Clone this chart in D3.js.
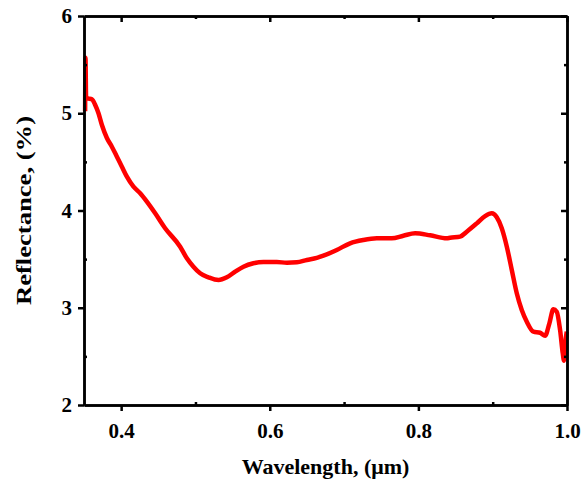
<!DOCTYPE html>
<html>
<head>
<meta charset="utf-8">
<script src="https://cdn.jsdelivr.net/npm/d3@7"></script>
<style>
  body { margin: 0; background: #fff; }
  text { font-family: "Liberation Serif", "Times New Roman", serif; font-weight: bold; }
</style>
</head>
<body>
<div id="chart"></div>
<script>
// ---- data ----
const wavelength = [0.3515, 0.3520, 0.3528, 0.3547, 0.3606, 0.3651, 0.3695, 0.3741, 0.3808, 0.3875,
  0.3943, 0.4010, 0.4077, 0.4166, 0.4256, 0.4346, 0.4458, 0.4592, 0.4794, 0.4884,
  0.4973, 0.5063, 0.5175, 0.5310, 0.5422, 0.5534, 0.5646, 0.5780, 0.5915, 0.6095,
  0.6230, 0.6364, 0.6499, 0.6633, 0.6722, 0.6902, 0.7081, 0.7260, 0.7441, 0.7642,
  0.7798, 0.7956, 0.8158, 0.8382, 0.8427, 0.8561, 0.8651, 0.8786, 0.8898, 0.8988,
  0.9055, 0.9122, 0.9190, 0.9257, 0.9324, 0.9391, 0.9459, 0.9548, 0.9638, 0.9705,
  0.9763, 0.9816, 0.9862, 0.9907, 0.9943, 0.9960, 0.9987, 0.9997];
const reflectance = [5.02, 5.57, 5.17, 5.154, 5.143, 5.085, 5.00, 4.879, 4.746, 4.656,
  4.553, 4.450, 4.348, 4.245, 4.177, 4.091, 3.971, 3.817, 3.628, 3.508,
  3.422, 3.354, 3.313, 3.285, 3.313, 3.371, 3.422, 3.457, 3.470, 3.470,
  3.463, 3.467, 3.491, 3.512, 3.535, 3.594, 3.663, 3.697, 3.714, 3.714,
  3.741, 3.766, 3.745, 3.714, 3.720, 3.731, 3.782, 3.868, 3.943, 3.971,
  3.930, 3.817, 3.628, 3.388, 3.149, 2.977, 2.857, 2.754, 2.743, 2.713,
  2.840, 2.984, 2.959, 2.771, 2.532, 2.456, 2.702, 2.754];

const xTicks = [0.4, 0.6, 0.8, 1.0];
const xMinor = [0.5, 0.7, 0.9];
const yTicks = [2, 3, 4, 5, 6];
const yMinor = [2.5, 3.5, 4.5, 5.5];

// ---- layout ----
const width = 583, height = 481;
const plot = { left: 84, right: 567, top: 16, bottom: 405 };

const svg = d3.select("#chart").append("svg")
  .attr("width", width)
  .attr("height", height);

const x = d3.scaleLinear().domain([0.35, 1.0]).range([plot.left, plot.right]);
const y = d3.scaleLinear().domain([2, 6]).range([plot.bottom, plot.top]);

// ---- curve ----
const series = wavelength.map((w, i) => ({ w, r: reflectance[i] }));
const line = d3.line()
  .x(d => x(d.w))
  .y(d => y(d.r))
  .curve(d3.curveMonotoneX);

svg.append("path")
  .datum(series)
  .attr("d", line)
  .attr("fill", "none")
  .attr("stroke", "#ff0000")
  .attr("stroke-width", 4.5)
  .attr("stroke-linejoin", "round");

// ---- axes ----
function styleAxis(g) {
  g.select(".domain").attr("stroke", "#000").attr("stroke-width", 2.5);
  g.selectAll(".tick line").attr("stroke", "#000").attr("stroke-width", 2.5);
  g.selectAll(".tick text").attr("fill", "#000");
}

const fmtX = d3.format(".1f");

// bottom
svg.append("g")
  .attr("transform", `translate(0,${plot.bottom})`)
  .call(d3.axisBottom(x).tickValues(xTicks).tickFormat(fmtX).tickSize(6).tickSizeOuter(0).tickPadding(12))
  .call(styleAxis)
  .call(g => g.selectAll(".tick text").style("font-size", "21px"));
svg.append("g")
  .attr("transform", `translate(0,${plot.bottom})`)
  .call(d3.axisTop(x).tickValues(xMinor).tickFormat("").tickSize(3).tickSizeOuter(0))
  .call(styleAxis);

// top
svg.append("g")
  .attr("transform", `translate(0,${plot.top})`)
  .call(d3.axisBottom(x).tickValues(xTicks).tickFormat("").tickSize(6).tickSizeOuter(0))
  .call(styleAxis);
svg.append("g")
  .attr("transform", `translate(0,${plot.top})`)
  .call(d3.axisBottom(x).tickValues(xMinor).tickFormat("").tickSize(3).tickSizeOuter(0))
  .call(styleAxis);

// left
svg.append("g")
  .attr("transform", `translate(${plot.left},0)`)
  .call(d3.axisLeft(y).tickValues(yTicks).tickFormat(d3.format("d")).tickSize(6).tickSizeOuter(0).tickPadding(6))
  .call(styleAxis)
  .call(g => g.selectAll(".tick text").style("font-size", "21px"));
svg.append("g")
  .attr("transform", `translate(${plot.left},0)`)
  .call(d3.axisRight(y).tickValues(yMinor).tickFormat("").tickSize(3).tickSizeOuter(0))
  .call(styleAxis);

// right
svg.append("g")
  .attr("transform", `translate(${plot.right},0)`)
  .call(d3.axisLeft(y).tickValues(yTicks).tickFormat("").tickSize(6).tickSizeOuter(0))
  .call(styleAxis);
svg.append("g")
  .attr("transform", `translate(${plot.right},0)`)
  .call(d3.axisLeft(y).tickValues(yMinor).tickFormat("").tickSize(3).tickSizeOuter(0))
  .call(styleAxis);

// ---- titles ----
svg.append("text")
  .attr("x", (plot.left + plot.right) / 2)
  .attr("y", 474)
  .attr("text-anchor", "middle")
  .style("font-size", "22px")
  .text("Wavelength, (\u03bcm)");

svg.append("text")
  .attr("transform", `translate(31,${(plot.top + plot.bottom) / 2}) rotate(-90)`)
  .attr("text-anchor", "middle")
  .attr("textLength", 189)
  .attr("lengthAdjust", "spacingAndGlyphs")
  .style("font-size", "22px")
  .text("Reflectance, (%)");
</script>
</body>
</html>
